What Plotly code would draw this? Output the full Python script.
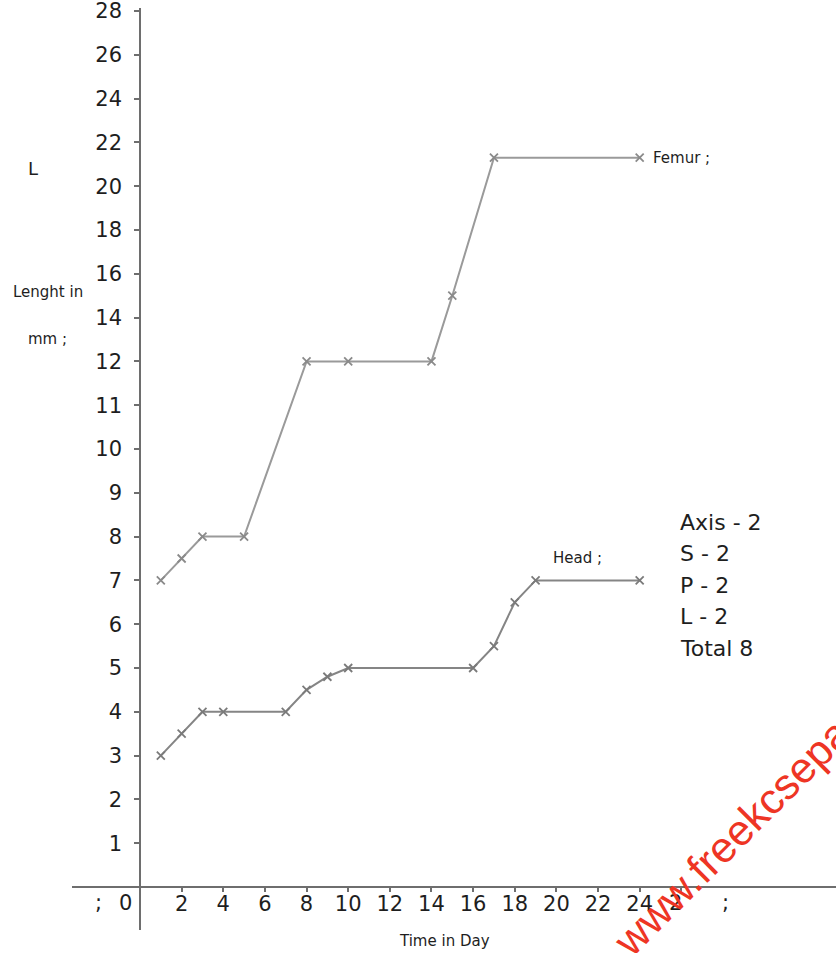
import numpy as np
import plotly.graph_objects as go

# Growth readings (length in mm against time in days)
femur_days = [1, 2, 3, 5, 8, 10, 14, 15, 17, 24]
femur_mm = [7, 7.5, 8, 8, 12, 12, 12, 15, 21.3, 21.3]

head_days = [1, 2, 3, 4, 7, 8, 9, 10, 16, 17, 18, 19, 24]
head_mm = [3, 3.5, 4, 4, 4, 4.5, 4.8, 5, 5, 5.5, 6.5, 7, 7]

# Axis graduations: the length axis steps by 1 up to 12, then by 2
y_tick_values = [1, 2, 3, 4, 5, 6, 7, 8, 9, 10, 11, 12, 14, 16, 18, 20, 22, 24, 26, 28]
x_tick_values = [2, 4, 6, 8, 10, 12, 14, 16, 18, 20, 22, 24, 26]
x_tick_labels = ["2", "4", "6", "8", "10", "12", "14", "16", "18", "20", "22", "24", ""]

marks = ["Axis - 2", "S - 2", "P - 2", "L - 2", "Total 8"]

# Piecewise scale: every graduation gets one equal step on the axis
scale_values = [0] + y_tick_values
scale_steps = np.arange(len(scale_values))


def to_axis(v):
    return np.interp(v, scale_values, scale_steps)


W, H = 836, 953
ML, MR, MT, MB = 72, 0, 8, 23
PX_PER_DAY = 20.82
PX_PER_STEP = 43.8
ORIGIN_PX = (140, 887)

plot_w = W - ML - MR
plot_h = H - MT - MB
x_min = -(ORIGIN_PX[0] - ML) / PX_PER_DAY
x_max = x_min + plot_w / PX_PER_DAY
y_max = (ORIGIN_PX[1] - MT) / PX_PER_STEP
y_min = y_max - plot_h / PX_PER_STEP


def paper_x(px):
    return (px - ML) / plot_w


def paper_y(py):
    return 1 - (py - MT) / plot_h


FONT = "DejaVu Sans"
INK = "#1e1e1e"

fig = go.Figure()

fig.add_trace(go.Scatter(
    x=femur_days, y=to_axis(femur_mm), mode="lines+markers", name="Femur",
    line=dict(color="#9a9a9a", width=2),
    marker=dict(symbol="x-thin", size=8, line=dict(color="#8a8a8a", width=1.8)),
    showlegend=False,
))
fig.add_trace(go.Scatter(
    x=head_days, y=to_axis(head_mm), mode="lines+markers", name="Head",
    line=dict(color="#858585", width=2),
    marker=dict(symbol="x-thin", size=8, line=dict(color="#7a7a7a", width=1.8)),
    showlegend=False,
))

annotations = []

# series labels at the ends of the curves
annotations.append(dict(x=femur_days[-1], y=to_axis(femur_mm[-1]), xref="x", yref="y",
                        text="Femur ;", showarrow=False, xanchor="left", xshift=11,
                        font=dict(family=FONT, size=15, color=INK)))
annotations.append(dict(x=head_days[-2] + 2, y=to_axis(head_mm[-1]), xref="x", yref="y",
                        text="Head ;", showarrow=False, yshift=22,
                        font=dict(family=FONT, size=15, color=INK)))

# marking scheme block
for i, line in enumerate(marks):
    annotations.append(dict(x=paper_x(678), y=paper_y(522 + i * 31.5), xref="paper", yref="paper",
                            text=line, showarrow=False, xanchor="left", yanchor="middle",
                            font=dict(family=FONT, size=22, color=INK)))

# axis titles
for px, py, txt, size in [(33, 168, "L", 18), (48, 292, "Lenght in", 15),
                          (47, 339, "mm ;", 15), (444, 941, "Time in Day", 15)]:
    annotations.append(dict(x=paper_x(px), y=paper_y(py), xref="paper", yref="paper",
                            text=txt, showarrow=False, xanchor="center", yanchor="middle",
                            font=dict(family=FONT, size=size, color=INK)))

# stray characters along the time axis
for xv, txt in [(-2.0, ";"), (-0.7, "0"), (25.7, "2"), (28.1, ";")]:
    annotations.append(dict(x=xv, y=0, xref="x", yref="y", text=txt, showarrow=False,
                            yanchor="top", yshift=-2,
                            font=dict(family=FONT, size=21, color=INK)))

# site watermark
annotations.append(dict(x=paper_x(794), y=paper_y(775), xref="paper", yref="paper",
                        text="www.freekcsepapers.com", showarrow=False, textangle=-45,
                        xanchor="center", yanchor="middle",
                        font=dict(family="Liberation Sans", size=43, color="#ee3524")))

fig.update_layout(
    width=W, height=H,
    margin=dict(l=ML, r=MR, t=MT, b=MB),
    paper_bgcolor="white", plot_bgcolor="white",
    annotations=annotations,
    xaxis=dict(
        range=[x_min, x_max], anchor="free",
        position=(0 - y_min) / (y_max - y_min),
        showline=True, linecolor="#6e6e6e", linewidth=1.5,
        ticks="outside", ticklen=4, tickcolor="#6e6e6e", tickwidth=1.5,
        tickvals=x_tick_values, ticktext=x_tick_labels,
        tickfont=dict(family=FONT, size=21, color=INK),
        ticklabelstandoff=-6, ticklabeloverflow="allow",
        showgrid=False, zeroline=False,
    ),
    yaxis=dict(
        range=[y_min, y_max], anchor="free",
        position=(0 - x_min) / (x_max - x_min),
        showline=True, linecolor="#6e6e6e", linewidth=1.5,
        ticks="outside", ticklen=5, tickcolor="#6e6e6e", tickwidth=1.5,
        tickvals=to_axis(y_tick_values), ticktext=[str(v) for v in y_tick_values],
        tickfont=dict(family=FONT, size=21, color=INK),
        ticklabelstandoff=8, ticklabeloverflow="allow",
        showgrid=False, zeroline=False,
    ),
)

fig.write_html("out.html")
